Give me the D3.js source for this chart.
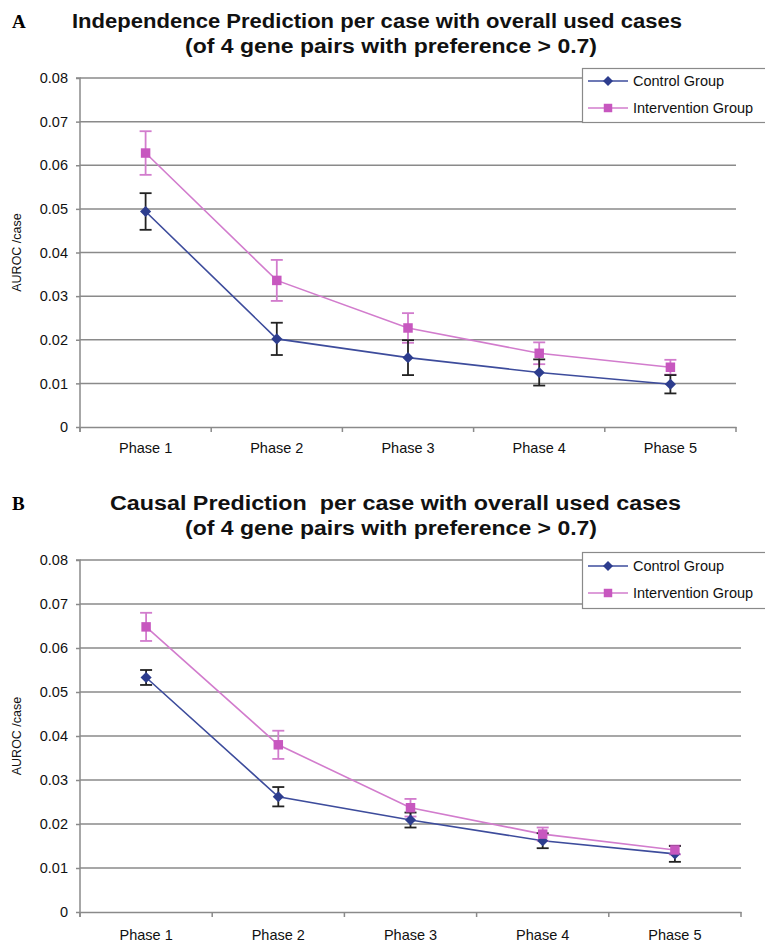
<!DOCTYPE html>
<html><head><meta charset="utf-8">
<script src="https://cdn.jsdelivr.net/npm/d3@7"></script>
<style>
html,body{margin:0;padding:0;background:#fff;}
svg{display:block;font-family:"Liberation Sans",Arial,sans-serif;}
</style></head>
<body><svg id="c" width="765" height="943"></svg>
<script>
const phases = ["Phase 1","Phase 2","Phase 3","Phase 4","Phase 5"];
const yTicks = [0,0.01,0.02,0.03,0.04,0.05,0.06,0.07,0.08];
const seriesNames = ["Control Group","Intervention Group"];

const indepControl = [0.0494,0.0202,0.0159,0.0125,0.0098];
const indepControlErr = [0.0042,0.0037,0.0040,0.0030,0.0021];
const indepIntervention = [0.0628,0.0336,0.0227,0.0169,0.0137];
const indepInterventionErr = [0.0050,0.0047,0.0034,0.0025,0.0017];

const causalControl = [0.0533,0.0262,0.0209,0.0162,0.0132];
const causalControlErr = [0.0017,0.0022,0.0017,0.0017,0.0018];
const causalIntervention = [0.0648,0.0380,0.0237,0.0177,0.0141];
const causalInterventionErr = [0.0032,0.0032,0.0020,0.0015,0.0010];

const titlesA = ["Independence Prediction per case with overall used cases","(of 4 gene pairs with preference > 0.7)"];
const titlesB = ["Causal Prediction  per case with overall used cases","(of 4 gene pairs with preference > 0.7)"];

const svg = d3.select("#c");
const ctrlLine = "#3d4c9c", ctrlMark = "#2d3d8e", intLine = "#d27ccd", intMark = "#c757bf", errCtrl = "#222";
const gridCol = "#8a8a8a";

function panel(o){
  const g = svg.append("g");
  const x = d3.scaleBand().domain(phases).range([o.left,o.right]);
  const y = d3.scaleLinear().domain([0,0.08]).range([o.bottom,o.top]);
  const cx = p => x(p) + x.bandwidth()/2;

  g.append("text").attr("x",12).attr("y",o.titleY).attr("font-family","'Liberation Serif',serif")
    .attr("font-weight","bold").attr("font-size",19).text(o.letter);
  o.titles.forEach((t,i)=>{
    g.append("text").attr("x",o.titleX[i]).attr("y",o.titleY + i*o.titleGap)
      .attr("text-anchor","start").attr("font-weight","bold").attr("font-size",20)
      .attr("style","white-space:pre")
      .attr("textLength",o.titleW[i]).attr("lengthAdjust","spacingAndGlyphs")
      .attr("fill","#111").text(t);
  });

  g.append("g").selectAll("line").data(yTicks.filter(d=>d>0)).join("line")
    .attr("x1",o.left).attr("x2",o.right).attr("y1",d=>y(d)).attr("y2",d=>y(d))
    .attr("stroke",gridCol).attr("stroke-width",1.5);

  const ya = g.append("g").attr("transform",`translate(${o.left},0)`)
    .call(d3.axisLeft(y).tickValues(yTicks).tickSize(4).tickPadding(8)
      .tickFormat(d=> d===0 ? "0" : d3.format(".2f")(d)));
  ya.select(".domain").attr("stroke",gridCol).attr("stroke-width",1.5).attr("d",`M-4,${o.top}H0V${o.bottom+5}`);
  ya.selectAll(".tick line").attr("stroke",gridCol).attr("stroke-width",1.5);
  ya.selectAll("text").attr("font-size",14.5).attr("fill","#111").attr("font-family","'Liberation Sans',Arial,sans-serif");

  const xa = g.append("g").attr("transform",`translate(0,${o.bottom})`)
    .call(d3.axisBottom(x).tickSize(0).tickPadding(o.xPad));
  xa.select(".domain").attr("stroke",gridCol).attr("stroke-width",1.5);
  xa.selectAll("text").attr("font-size",14.5).attr("fill","#111").attr("font-family","'Liberation Sans',Arial,sans-serif");
  const bounds = phases.map(p=>x(p)).concat([o.right]);
  g.append("g").selectAll("line").data(bounds).join("line")
    .attr("x1",d=>d).attr("x2",d=>d).attr("y1",o.bottom).attr("y2",o.bottom+5)
    .attr("stroke",gridCol).attr("stroke-width",1.5);

  g.append("text").attr("transform",`translate(21,${(o.top+o.bottom)/2}) rotate(-90)`)
    .attr("text-anchor","middle").attr("font-size",12.5).attr("fill","#111").text("AUROC /case");

  const line = d3.line().x((d,i)=>cx(phases[i])).y(d=>y(d));
  const series = [
    {vals:o.ctrl, err:o.ctrlErr, lc:ctrlLine, mc:ctrlMark, ec:errCtrl, sym:d3.symbolSquare, size:62, rot:45},
    {vals:o.int, err:o.intErr, lc:intLine, mc:intMark, ec:intLine, sym:d3.symbolSquare, size:90, rot:0}
  ];
  series.forEach(s=>{
    g.append("path").datum(s.vals).attr("d",line).attr("fill","none").attr("stroke",s.lc).attr("stroke-width",1.6);
  });
  series.slice().reverse().forEach(s=>{
    const eg = g.append("g").attr("stroke",s.ec).attr("stroke-width",1.8);
    s.vals.forEach((v,i)=>{
      const px = cx(phases[i]);
      const hi = y(v + s.err[i]), lo = y(v - s.err[i]);
      eg.append("line").attr("x1",px).attr("x2",px).attr("y1",hi).attr("y2",lo);
      eg.append("line").attr("x1",px-6).attr("x2",px+6).attr("y1",hi).attr("y2",hi);
      eg.append("line").attr("x1",px-6).attr("x2",px+6).attr("y1",lo).attr("y2",lo);
    });
  });
  series.forEach(s=>{
    g.append("g").selectAll("path").data(s.vals).join("path")
      .attr("transform",(d,i)=>`translate(${cx(phases[i])},${y(d)}) rotate(${s.rot})`)
      .attr("d",d3.symbol(s.sym,s.size)).attr("fill",s.mc);
  });

  const lg = g.append("g");
  lg.append("rect").attr("x",582.5).attr("y",o.legTop+0.5).attr("width",200).attr("height",o.legH)
    .attr("fill","#fff").attr("stroke",gridCol).attr("stroke-width",1.2);
  series.forEach((s,i)=>{
    const ly = o.legTop + o.legRow0 + i*o.legRowGap;
    lg.append("line").attr("x1",588).attr("x2",628).attr("y1",ly).attr("y2",ly).attr("stroke",s.lc).attr("stroke-width",1.6);
    lg.append("path").attr("transform",`translate(608,${ly}) rotate(${s.rot})`).attr("d",d3.symbol(s.sym,s.size*0.8)).attr("fill",s.mc);
    lg.append("text").attr("x",633).attr("y",ly).attr("dy","0.35em").attr("font-size",14.5).attr("fill","#111").text(seriesNames[i]);
  });
}

panel({letter:"A", titles:titlesA, titleY:28, titleGap:25, titleX:[72,185], titleW:[610,412],
  left:80, right:736, top:78, bottom:427, xPad:16,
  ctrl:indepControl, ctrlErr:indepControlErr, int:indepIntervention, intErr:indepInterventionErr,
  legTop:68, legH:54, legRow0:13, legRowGap:27});
panel({letter:"B", titles:titlesB, titleY:510, titleGap:25, titleX:[110,185], titleW:[571,412],
  left:80, right:741, top:560, bottom:912, xPad:18,
  ctrl:causalControl, ctrlErr:causalControlErr, int:causalIntervention, intErr:causalInterventionErr,
  legTop:552, legH:56, legRow0:14, legRowGap:27});
</script></body></html>
